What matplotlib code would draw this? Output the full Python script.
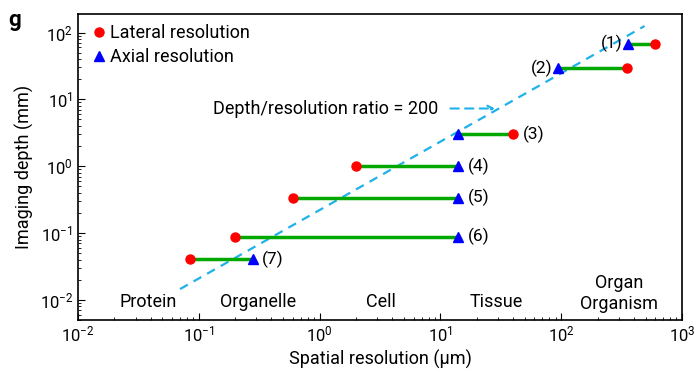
import matplotlib.pyplot as plt

plt.rcParams['font.family'] = ['Roboto', 'DejaVu Sans']
plt.rcParams['mathtext.fontset'] = 'custom'
plt.rcParams['mathtext.rm'] = 'Roboto'

# technique ranges: lateral resolution, axial resolution (um), imaging depth (mm)
labels = ['(1)', '(2)', '(3)', '(4)', '(5)', '(6)', '(7)']
lateral = [600, 350, 40, 2, 0.6, 0.2, 0.085]
axial = [360, 95, 14, 14, 14, 14, 0.28]
depth = [68, 29, 3.0, 1.0, 0.34, 0.088, 0.041]

# depth/resolution = 200 guide line end points
ratio_x = [0.07, 490]
ratio_y = [0.0145, 125]

scales = ['Protein', 'Organelle', 'Cell', 'Tissue', 'Organ\nOrganism']
scale_x = [0.038, 0.31, 3.2, 29, 300]
scale_y = [0.0093, 0.0093, 0.0093, 0.0093, 0.0125]

fig = plt.figure(figsize=(6.98, 3.76), dpi=100)
ax = fig.add_axes([0.1117, 0.149, 0.8653, 0.814])

ax.plot(ratio_x, ratio_y, '--', color='#1fb1ea', lw=1.6, dashes=(4, 3), zorder=1)

for i in range(len(labels)):
    ax.plot([lateral[i], axial[i]], [depth[i], depth[i]], color='#00a800', lw=2.5, zorder=2)
ax.plot(lateral, depth, 'o', color='#ff0000', ms=6.5, zorder=3, label='Lateral resolution')
ax.plot(axial, depth, '^', color='#0000ff', ms=6.5, zorder=3, label='Axial resolution')

# numbering: first two on the left of the triangle, the rest on the right
for i in range(len(labels)):
    if i < 2:
        ax.text(axial[i] * 0.9, depth[i], labels[i], ha='right', va='center', fontsize=12.5)
    else:
        xr = max(lateral[i], axial[i])
        ax.text(xr * 1.2, depth[i], labels[i], ha='left', va='center', fontsize=12.5)

for s, x, y in zip(scales, scale_x, scale_y):
    ax.text(x, y, s, ha='center', va='center', fontsize=13, linespacing=1.2)

ax.annotate('', xy=(30, 7.3), xytext=(11.5, 7.3),
            arrowprops=dict(arrowstyle='->', color='#1fb1ea', lw=1.5, ls=(0, (4, 3))))
ax.text(9.6, 7.3, 'Depth/resolution ratio = 200', ha='right', va='center', fontsize=13)

ax.set_xscale('log')
ax.set_yscale('log')
ax.set_xlim(0.01, 1000)
ax.set_ylim(0.005, 190)
ax.set_xticks([0.01, 0.1, 1, 10, 100, 1000])
ax.set_yticks([0.01, 0.1, 1, 10, 100])
ax.tick_params(which='both', direction='in', labelsize=12)
ax.tick_params(which='major', length=5)
ax.tick_params(which='minor', length=2.5)
for sp in ax.spines.values():
    sp.set_linewidth(1.2)

ax.set_xlabel('Spatial resolution (µm)', fontsize=13)
ax.set_ylabel('Imaging depth (mm)', fontsize=13)

ax.legend(loc='upper left', frameon=False, fontsize=13, handletextpad=0.0,
          handlelength=1.2, borderaxespad=0.15, labelspacing=0.35)

fig.text(0.012, 0.93, 'g', fontsize=16, fontweight='bold')

fig.savefig('out.png', dpi=100)
